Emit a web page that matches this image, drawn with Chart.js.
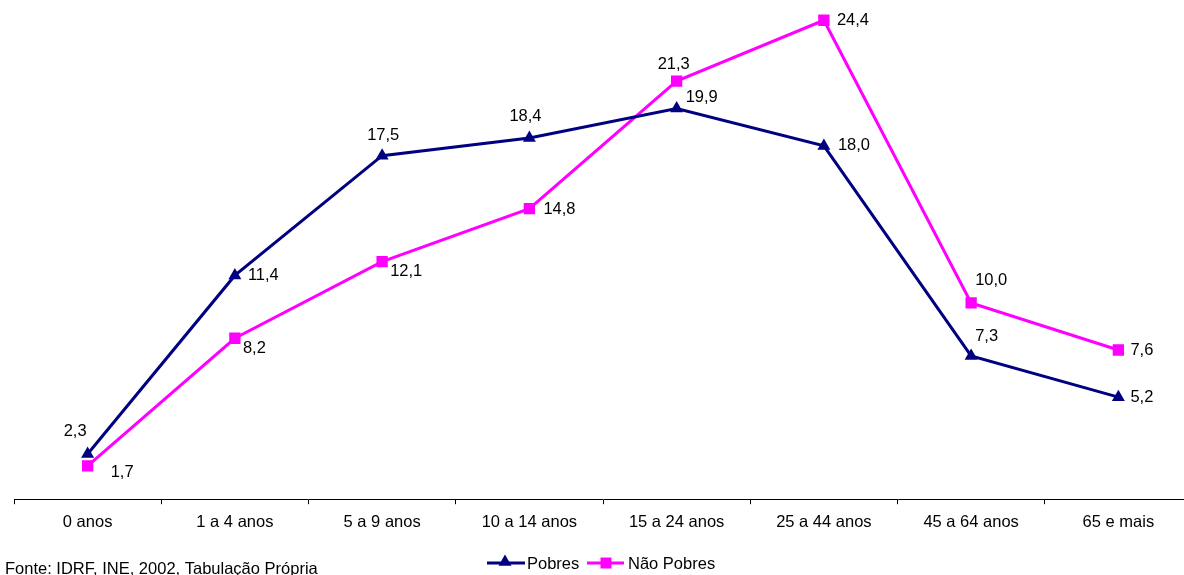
<!DOCTYPE html>
<html>
<head>
<meta charset="utf-8">
<script src="https://cdn.jsdelivr.net/npm/chart.js@4/dist/chart.umd.min.js"></script>
<style>
  html, body { margin: 0; padding: 0; background: #fff; overflow: hidden; }
  #wrap { position: relative; width: 1184px; height: 575px; overflow: hidden; }
  canvas { display: block; }
</style>
</head>
<body>
<div id="wrap"><canvas id="c" width="1200" height="575"></canvas></div>
<script>
// ---- Data ----
const categories = ["0 anos", "1 a 4 anos", "5 a 9 anos", "10 a 14 anos", "15 a 24 anos", "25 a 44 anos", "45 a 64 anos", "65 e mais"];
const pobres = [2.3, 11.4, 17.5, 18.4, 19.9, 18.0, 7.3, 5.2];
const naoPobres = [1.7, 8.2, 12.1, 14.8, 21.3, 24.4, 10.0, 7.6];
const seriesNames = ["Pobres", "Não Pobres"];
const sourceNote = "Fonte: IDRF, INE, 2002, Tabulação Própria";

// ---- Label placement (style only): [dx from point to text left, dy of text middle] ----
const labelOffsetsPobres = [[-24, -23], [13, 0], [-15, -20], [-20, -22], [9, -11], [14, 0], [4, -19], [12, 0]];
const labelOffsetsNaoPobres = [[23, 7], [8, 10], [8, 10], [14, 1], [-19, -17], [13, 0], [4, -22], [12, 0]];

const FONT = "'Liberation Sans', Arial, sans-serif";
const FS = 16.5;
const NAVY = "#000080";
const MAGENTA = "#FF00FF";

function fmt(v) { return v.toFixed(1).replace('.', ','); }

function drawTri(ctx, x, y, r, color) {
  ctx.beginPath();
  ctx.moveTo(x, y - r);
  ctx.lineTo(x + r * Math.sin(Math.PI / 3), y + r * 0.5);
  ctx.lineTo(x - r * Math.sin(Math.PI / 3), y + r * 0.5);
  ctx.closePath();
  ctx.fillStyle = color; ctx.fill();
}
function drawSq(ctx, x, y, h, color) {
  ctx.fillStyle = color;
  ctx.fillRect(x - h, y - h, 2 * h, 2 * h);
}

const labelsPlugin = {
  id: 'labelsPlugin',
  afterDatasetsDraw(chart) {
    const ctx = chart.ctx;
    ctx.save();
    ctx.font = FS + "px " + FONT;
    ctx.fillStyle = "#000";
    ctx.textAlign = "left";
    ctx.textBaseline = "middle";
    const offs = [labelOffsetsPobres, labelOffsetsNaoPobres];
    chart.data.datasets.forEach((ds, di) => {
      const meta = chart.getDatasetMeta(di);
      meta.data.forEach((pt, i) => {
        const o = offs[di][i];
        ctx.fillText(fmt(ds.data[i]), pt.x + o[0], pt.y + o[1]);
      });
    });
    ctx.restore();
  },
  afterDraw(chart) {
    const ctx = chart.ctx;
    ctx.save();
    // legend
    const cx = 601;
    const ly = 563;
    ctx.lineWidth = 3;
    ctx.strokeStyle = NAVY;
    ctx.beginPath(); ctx.moveTo(cx - 114, ly); ctx.lineTo(cx - 76, ly); ctx.stroke();
    drawTri(ctx, cx - 96, ly - 1, 7.5, NAVY);
    ctx.strokeStyle = MAGENTA;
    ctx.beginPath(); ctx.moveTo(cx - 14, ly); ctx.lineTo(cx + 23, ly); ctx.stroke();
    drawSq(ctx, cx + 5, ly, 5.5, MAGENTA);
    ctx.font = FS + "px " + FONT;
    ctx.fillStyle = "#000";
    ctx.textAlign = "left";
    ctx.textBaseline = "alphabetic";
    ctx.fillText(seriesNames[0], cx - 74, ly + 6);
    ctx.fillText(seriesNames[1], cx + 27, ly + 6);
    // source note
    ctx.fillText(sourceNote, 5, 574);
    ctx.restore();
  }
};

new Chart(document.getElementById('c'), {
  type: 'line',
  data: {
    labels: categories,
    datasets: [
      {
        label: seriesNames[0], data: pobres,
        borderColor: NAVY, backgroundColor: NAVY, borderWidth: 3,
        pointStyle: 'triangle', pointRadius: 7.5, pointBorderWidth: 0,
        pointBackgroundColor: NAVY, tension: 0
      },
      {
        label: seriesNames[1], data: naoPobres,
        borderColor: MAGENTA, backgroundColor: MAGENTA, borderWidth: 3,
        pointStyle: 'rect', pointRadius: 8, pointBorderWidth: 0,
        pointBackgroundColor: MAGENTA, tension: 0
      }
    ]
  },
  options: {
    responsive: false,
    animation: false,
    devicePixelRatio: 1,
    layout: { padding: { left: 14, right: 8, top: 8.5, bottom: 35 } },
    plugins: { legend: { display: false }, tooltip: { enabled: false } },
    scales: {
      x: {
        type: 'category',
        offset: true,
        grid: { offset: true, drawOnChartArea: false, drawTicks: true, tickLength: 5, color: '#000', lineWidth: 1 },
        border: { display: true, color: '#000', width: 1 },
        ticks: { color: '#000', font: { family: FONT, size: FS }, padding: 8, maxRotation: 0, autoSkip: false }
      },
      y: {
        display: false,
        min: 0, max: 25
      }
    }
  },
  plugins: [labelsPlugin]
});
</script>
</body>
</html>
